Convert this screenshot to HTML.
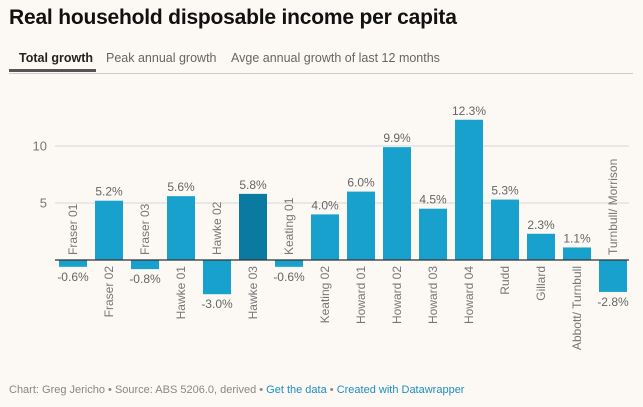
<!DOCTYPE html>
<html><head><meta charset="utf-8"><style>
body{margin:0;background:#fcf8f4;font-family:"Liberation Sans",sans-serif;width:643px;height:407px;overflow:hidden;position:relative}
.title{position:absolute;left:9px;top:6px;font-size:21px;font-weight:bold;color:#111;letter-spacing:-0.2px}
.tabs{position:absolute;left:9px;top:49px;width:624px;height:24px;border-bottom:1px solid #ccc;font-size:12.5px}
.tab{position:absolute;top:2px;color:#666}
.tab.active{color:#222;font-weight:bold}
.ul{position:absolute;left:0;top:20px;width:87px;height:3px;background:#555}
.foot{position:absolute;left:9px;top:384px;font-size:11px;color:#888}
.foot a{color:#1d8fc0;text-decoration:none}
svg{position:absolute;left:0;top:0}
</style></head><body>
<div class="title">Real household disposable income per capita</div>
<div class="tabs">
<span class="tab active" style="left:10px">Total growth</span>
<span class="tab" style="left:97px">Peak annual growth</span>
<span class="tab" style="left:222px">Avge annual growth of last 12 months</span>
<div class="ul"></div>
</div>
<svg id="chart" width="643" height="407"></svg>
<div class="foot">Chart: Greg Jericho • Source: ABS 5206.0, derived • <a>Get the data</a> • <a>Created with Datawrapper</a></div>
<script>
const categories=["Fraser 01","Fraser 02","Fraser 03","Hawke 01","Hawke 02","Hawke 03","Keating 01","Keating 02","Howard 01","Howard 02","Howard 03","Howard 04","Rudd","Gillard","Abbott/ Turnbull","Turnbull/ Morrison"];
const values=[-0.6,5.2,-0.8,5.6,-3.0,5.8,-0.6,4.0,6.0,9.9,4.5,12.3,5.3,2.3,1.1,-2.8];
const highlight=["Hawke 03"];
const yTicks=[5,10];
const NS="http://www.w3.org/2000/svg";
const svg=document.getElementById('chart');
const y=v=>260-v*11.4;
const x0=59,step=36,bw=28;
const x=i=>x0+i*step;
function el(t,a){const e=document.createElementNS(NS,t);for(const k in a)e.setAttribute(k,a[k]);svg.appendChild(e);return e;}
yTicks.forEach(t=>{
  const g=el('line',{x1:55,x2:629,y1:y(t),y2:y(t),stroke:'#d8d8d8','stroke-width':1});
  
  
  const l=el('text',{x:47,y:y(t)+4.5,'text-anchor':'end','font-size':13,fill:'#777','font-family':'Liberation Sans'});
  l.textContent=t;
  
  
});
values.forEach((v,i)=>{
  const top=Math.min(y(v),y(0)),h=Math.abs(y(v)-y(0));
  const r=el('rect',{x:x(i),y:top,width:bw,height:h,fill:highlight.includes(categories[i])?'#0b7aa1':'#18a1cd'});
  
  
  const cx=x(i)+bw/2;
  const vl=el('text',{x:cx,y:v>=0?y(v)-5:y(v)+14,'text-anchor':'middle','font-size':12,fill:'#666','font-family':'Liberation Sans'});
  vl.textContent=v.toFixed(1)+'%';
  
  
  const ly=v>=0?266:255;
  const nl=el('text',{x:cx+4,y:ly,'text-anchor':v>=0?'end':'start','font-size':12,fill:'#777','font-family':'Liberation Sans',transform:`rotate(-90 ${cx+4} ${ly})`});
  nl.textContent=categories[i];
  
  
});
const b=el('line',{x1:55,x2:629,y1:y(0),y2:y(0),stroke:'#333','stroke-width':1.2});


</script>
</body></html>
